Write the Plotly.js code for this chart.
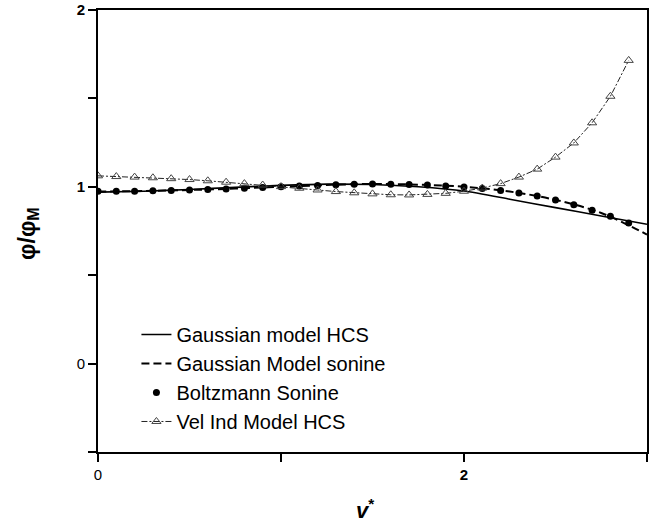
<!DOCTYPE html>
<html>
<head>
<meta charset="utf-8">
<script src="https://cdn.plot.ly/plotly-3.0.1.min.js"></script>
<style>
  html, body { margin: 0; padding: 0; background: #fff; }
  #chart { width: 662px; height: 529px; }
</style>
</head>
<body>
<div id="chart"></div>
<script>
// Reduced velocity v* and normalised distribution phi/phi_M for each model
const gaussHcsX = [0, 0.25, 0.5, 0.75, 1.0, 1.25, 1.5, 1.75, 2.0, 2.25, 2.5, 2.75, 3.0];
const gaussHcsY = [0.970, 0.975, 0.985, 0.997, 1.008, 1.015, 1.013, 1.000, 0.976, 0.930, 0.882, 0.835, 0.788];

const gaussSonineX = [0, 0.25, 0.5, 0.75, 1.0, 1.25, 1.5, 1.75, 2.0, 2.25, 2.5, 2.75, 3.0];
const gaussSonineY = [0.973, 0.976, 0.982, 0.990, 1.000, 1.010, 1.016, 1.012, 1.000, 0.973, 0.926, 0.852, 0.730];

const boltzX = [0, 0.1, 0.2, 0.3, 0.4, 0.5, 0.6, 0.7, 0.8, 0.9, 1.0, 1.1, 1.2, 1.3, 1.4,
                1.5, 1.6, 1.7, 1.8, 1.9, 2.0, 2.1, 2.2, 2.3, 2.4, 2.5, 2.6, 2.7, 2.8, 2.9];
const boltzY = [0.975, 0.975, 0.975, 0.977, 0.979, 0.982, 0.985, 0.988, 0.992, 0.996, 1.000, 1.004, 1.008, 1.012, 1.015,
                1.016, 1.015, 1.013, 1.010, 1.005, 0.999, 0.990, 0.979, 0.965, 0.948, 0.925, 0.899, 0.868, 0.834, 0.795];

const velIndX = [0, 0.1, 0.2, 0.3, 0.4, 0.5, 0.6, 0.7, 0.8, 0.9, 1.0, 1.1, 1.2, 1.3, 1.4,
                 1.5, 1.6, 1.7, 1.8, 1.9, 2.0, 2.1, 2.2, 2.3, 2.4, 2.5, 2.6, 2.7, 2.8, 2.9];
const velIndY = [1.062, 1.058, 1.055, 1.051, 1.046, 1.041, 1.034, 1.026, 1.018, 1.010, 1.001, 0.992, 0.982, 0.973, 0.966,
                 0.960, 0.955, 0.954, 0.957, 0.963, 0.975, 0.993, 1.018, 1.055, 1.100, 1.168, 1.248, 1.362, 1.512, 1.715];

const seriesNames = ['Gaussian model HCS', 'Gaussian Model sonine', 'Boltzmann Sonine', 'Vel Ind Model HCS'];

const xTickVals = [0, 2];
const xTickText = ['0', '<b>2</b>'];
const yTickVals = [0, 1, 2];
const yTickText = ['0', '<b>1</b>', '<b>2</b>'];

const FONT = 'Liberation Sans, Arial, sans-serif';

const traces = [
  {
    x: gaussHcsX, y: gaussHcsY, name: seriesNames[0],
    mode: 'lines', line: { color: '#000', width: 1.6, shape: 'spline', smoothing: 0.6 }
  },
  {
    x: gaussSonineX, y: gaussSonineY, name: seriesNames[1],
    mode: 'lines', line: { color: '#000', width: 2, dash: '8px,4px', shape: 'spline' }
  },
  {
    x: boltzX, y: boltzY, name: seriesNames[2],
    mode: 'markers', marker: { color: '#000', size: 7, symbol: 'circle' }
  },
  {
    x: velIndX, y: velIndY, name: seriesNames[3],
    mode: 'lines+markers',
    line: { color: '#222', width: 1, dash: '6px,2px,2px,2px' },
    marker: { symbol: 'triangle-up-open', size: 8, color: '#444', line: { width: 1, color: '#444' } }
  }
];

const axisCommon = {
  showgrid: false, zeroline: false,
  showline: true, linecolor: '#000', linewidth: 2, mirror: true,
  ticks: 'outside', ticklen: 8, tickwidth: 2, tickcolor: '#000',
  tickmode: 'array',
  tickfont: { family: FONT, size: 15, color: '#000' }
};

const layout = {
  width: 662, height: 529,
  margin: { l: 98, r: 15, t: 10, b: 77 },
  paper_bgcolor: '#fff', plot_bgcolor: '#fff',
  showlegend: true,
  legend: {
    x: 0.07, y: 0.31, xanchor: 'left', yanchor: 'top',
    bgcolor: 'rgba(0,0,0,0)', borderwidth: 0,
    font: { family: FONT, size: 20, color: '#000' },
    tracegroupgap: 0
  },
  xaxis: Object.assign({}, axisCommon, {
    range: [0, 3], tickvals: xTickVals, ticktext: xTickText,
    minor: { tickvals: [1, 3], ticks: 'outside', ticklen: 8, tickwidth: 2, tickcolor: '#000' }
  }),
  yaxis: Object.assign({}, axisCommon, {
    range: [-0.5, 2], tickvals: yTickVals, ticktext: yTickText,
    minor: { tickvals: [-0.5, 0.5, 1.5], ticks: 'outside', ticklen: 8, tickwidth: 2, tickcolor: '#000' }
  }),
  annotations: [
    {
      text: '<b>φ/φ<sub>M</sub></b>', textangle: -90,
      xref: 'paper', yref: 'paper', x: -0.128, y: 0.495,
      xanchor: 'center', yanchor: 'middle', showarrow: false,
      font: { family: FONT, size: 23, color: '#000' }
    },
    {
      text: '<b><i>v</i><sup>*</sup></b>',
      xref: 'paper', yref: 'paper', x: 0.486, y: -0.13,
      xanchor: 'center', yanchor: 'middle', showarrow: false,
      font: { family: FONT, size: 22, color: '#000' }
    }
  ]
};

Plotly.newPlot('chart', traces, layout, { displayModeBar: false, staticPlot: true });
</script>
</body>
</html>
